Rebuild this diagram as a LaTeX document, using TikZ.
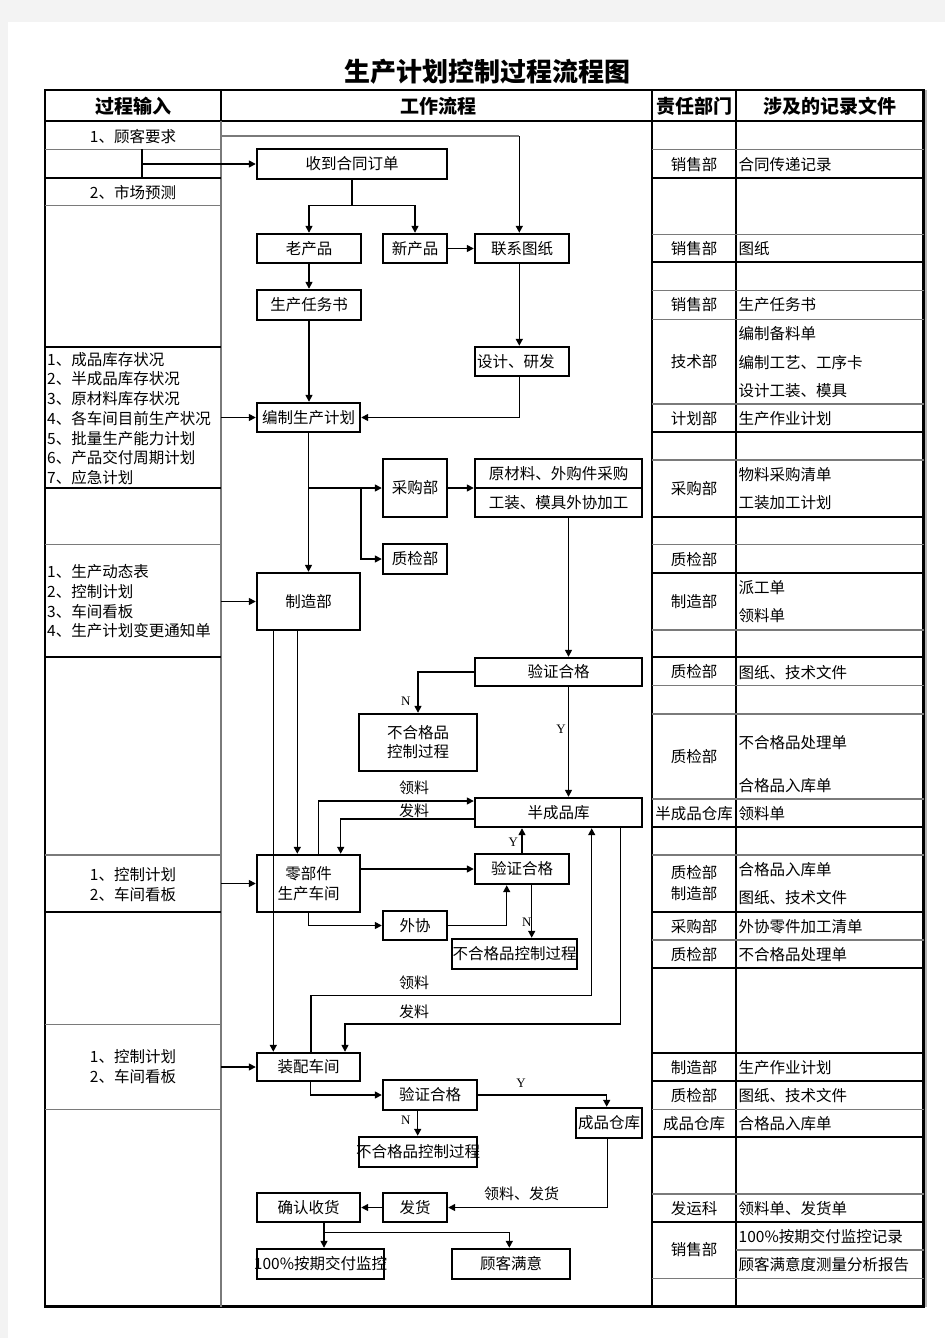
\documentclass[tikz,border=0pt]{standalone}
\usepackage{fontspec}
\setmainfont{Noto Sans CJK SC}
\newfontfamily\latf{Liberation Serif}
\usetikzlibrary{arrows.meta,calc}
\definecolor{bggray}{HTML}{F3F3F3}
\definecolor{rulegray}{HTML}{7A7A7A}
\tikzset{
  pbox/.style={draw, line width=2.4pt, inner sep=0pt, align=center, font=\fontsize{15.5}{19.5}\selectfont},
  sz/.style 2 args={minimum width=#1, minimum height=#2},
  conn/.style={line width=1.5pt},
  arr/.style={line width=1.5pt, -{Triangle[length=7pt,width=7pt]}},
  krule/.style={line width=2pt, black},
  frule/.style={line width=2.6pt, black},
  trule/.style={line width=1.1pt, rulegray},
  mrule/.style={line width=1.6pt, black},
  txt/.style={inner sep=0pt, font=\fontsize{15.5}{19.7}\selectfont},
  lbl/.style={inner sep=0pt, font=\fontsize{15}{18}\selectfont},
  yn/.style={inner sep=0pt, font=\latf\fontsize{13}{15}\selectfont},
  hdr/.style={inner sep=0pt, font=\fontsize{19}{22}\bfseries\selectfont}
}
\begin{document}
\begin{tikzpicture}[x=1pt,y=-1pt]
\useasboundingbox (0,0) rectangle (945,1338);
\fill[bggray] (0,0) rectangle (945,1338);
\fill[white] (8,22) rectangle (945,1338);

% title and headers
\node[inner sep=0pt, font=\fontsize{26}{30}\bfseries\selectfont] (title) at (487,72) {生产计划控制过程流程图};
\node[hdr] (h1) at (133,106) {过程输入};
\node[hdr] (h2) at (438,106) {工作流程};
\node[hdr] (h3) at (694,106) {责任部门};
\node[hdr] (h4) at (830,106) {涉及的记录文件};

% table rules
\draw[line width=1.6pt, gray!60] (926,90) -- (926,1307);
\draw[frule] (45,90) rectangle (923.5,1306.5);
\draw[frule] (45,121) -- (923.5,121);
\draw[frule] (221,90) -- (221,121);
\draw[trule] (221,121) -- (221,1306.5);
\draw[krule] (652,90) -- (652,1306.5);
\draw[mrule] (736,90) -- (736,1306.5);
\foreach \h in {149.3,205.7,544.7,855,1024.3,1109.3} \draw[trule] (45,\h) -- (221,\h);
\foreach \h in {177.7,347,487.7,657.3,911.7} \draw[krule] (45,\h) -- (221,\h);
\foreach \h in {149.3,234.3,290.7,319.3,404,460,544.7,630,685.7,714,799,855,940,1109.3,1194,1278.3} \draw[trule] (652,\h) -- (923.5,\h);
\foreach \h in {177.7,262.3,431.7,516.7,572.7,656.7,827.3,911.7,968.3,1052.7,1081,1137.3,1222.3} \draw[krule] (652,\h) -- (923.5,\h);
\draw[trule] (736,1250) -- (923.5,1250);

% left column texts
\node[txt] (in1) at (133,136.5) {1、顾客要求};
\node[txt] (in2) at (133,193) {2、市场预测};
\node[txt, anchor=west, align=left] (in3) at (47,418.5) {1、成品库存状况\\2、半成品库存状况\\3、原材料库存状况\\4、各车间目前生产状况\\5、批量生产能力计划\\6、产品交付周期计划\\7、应急计划};
\node[txt, anchor=west, align=left] (in4) at (47,601.5) {1、生产动态表\\2、控制计划\\3、车间看板\\4、生产计划变更通知单};
\node[txt, align=center, font=\fontsize{15.5}{20}\selectfont] (in5) at (133,884.5) {1、控制计划\\2、车间看板};
\node[txt, align=center, font=\fontsize{15.5}{20}\selectfont] (in6) at (133,1067) {1、控制计划\\2、车间看板};

% department column
\foreach \rowy/\rowtext [count=\i] in {165/销售部, 248.5/销售部, 305/销售部, 362/技术部, 418.5/计划部, 488.5/采购部, 559.5/质检部, 601.5/制造部, 672/质检部, 757/质检部, 813.5/半成品仓库, 926.5/采购部, 954.5/质检部, 1067.5/制造部, 1096/质检部, 1123.5/成品仓库, 1208.5/发运科, 1250/销售部}
  \node[txt] (dep\i) at (694,\rowy) {\rowtext};
\node[txt, align=center, font=\fontsize{15.5}{20.5}\selectfont] (depqm) at (694,883) {质检部\\制造部};

% record column
\foreach \rowy/\rowtext [count=\i] in {165/合同传递记录, 248.5/图纸, 305/生产任务书, 334/编制备料单, 362.5/编制工艺、工序卡, 391/设计工装、模具, 418.5/生产作业计划, 475/物料采购清单, 503/工装加工计划, 588/派工单, 616/领料单, 672.5/图纸、技术文件, 743/不合格品处理单, 786/合格品入库单, 813.5/领料单, 870/合格品入库单, 898/图纸、技术文件, 926.5/外协零件加工清单, 954.5/不合格品处理单, 1067.5/生产作业计划, 1096/图纸、技术文件, 1123.5/合格品入库单, 1208.5/领料单、发货单, 1236.5/100\%按期交付监控记录, 1265/顾客满意度测量分析报告}
  \node[txt, anchor=west] (rec\i) at (738.5,\rowy) {\rowtext};

% workflow boxes
\node[pbox, sz={190}{30}] (o1) at (352,164) {收到合同订单};
\node[pbox, sz={104}{29}] (old) at (309,248.5) {老产品};
\node[pbox, sz={64}{29}] (new) at (415,248.5) {新产品};
\node[pbox, sz={94}{29}] (draw) at (522,248.5) {联系图纸};
\node[pbox, sz={104}{30}] (task) at (309,305) {生产任务书};
\node[pbox, sz={94}{29}, text width=90pt, align=left, inner xsep=2pt] (design) at (522,361.5) {设计、研发};
\node[pbox, sz={103}{29}] (plan) at (308.5,417.5) {编制生产计划};
\node[pbox, sz={64}{58}] (buy) at (415,488) {采购部};
\node[pbox, sz={167}{29}] (mat1) at (558.5,473.5) {原材料、外购件采购};
\node[pbox, sz={167}{29}] (mat2) at (558.5,502.5) {工装、模具外协加工};
\node[pbox, sz={64}{30}] (qc1) at (415,559) {质检部};
\node[pbox, sz={103}{57}] (mfg) at (308.5,601.5) {制造部};
\node[pbox, sz={167}{28}] (ver1) at (558.5,672) {验证合格};
\node[pbox, sz={118}{57}, font=\fontsize{15.5}{19}\selectfont] (ng1) at (418,742.5) {不合格品\\控制过程};
\node[pbox, sz={167}{29}] (semi) at (558.5,812.5) {半成品库};
\node[pbox, sz={103}{57}, font=\fontsize{15.5}{20}\selectfont] (parts) at (308.5,883.5) {零部件\\生产车间};
\node[pbox, sz={94}{30}] (ver2) at (522,869) {验证合格};
\node[pbox, sz={64}{29}] (out) at (415,925.5) {外协};
\node[pbox, sz={125}{30}] (ng2) at (514.5,954) {\makebox[0pt]{不合格品控制过程}};
\node[pbox, sz={103}{28}] (asm) at (308.5,1067) {装配车间};
\node[pbox, sz={94}{30}] (ver3) at (430,1095) {验证合格};
\node[pbox, sz={118}{30}] (ng3) at (418,1152) {\makebox[0pt]{不合格品控制过程}};
\node[pbox, sz={66}{30}] (fin) at (609,1123) {\makebox[0pt]{成品仓库}};
\node[pbox, sz={103}{29}] (recv) at (308.5,1207.5) {确认收货};
\node[pbox, sz={64}{29}] (ship) at (415,1207.5) {发货};
\node[pbox, sz={127}{30}] (mon) at (320.5,1264) {\makebox[0pt]{100\%按期交付监控}};
\node[pbox, sz={118}{30}] (sat) at (511,1264) {顾客满意};

% helper coordinates
\coordinate (colL) at (221,0);
\coordinate (c1) at (221,136);
\coordinate (c1b) at (519.3,136);
\coordinate (c2t) at (142,149.3);
\coordinate (c2b) at (142,177.7);
\coordinate (c2) at (142,164);
\coordinate (b1) at (352,205.7);
\coordinate (b2) at (308.5,488);
\coordinate (b3) at (361,488);
\coordinate (r1) at (591.7,995.7);
\coordinate (r2) at (345,1024);
\coordinate (b4) at (324,1232.3);

% connectors
\draw[line width=1.1pt, rulegray] (c1) -- (c1b);
\draw[arr] (c1b) -- (c1b |- draw.north);
\draw[conn] (c2t) -- (c2b);
\draw[arr] (c2) -- (o1.west);
\draw[conn] (o1.south) -- (b1);
\draw[arr] (b1) -| (old.north);
\draw[arr] (b1) -| (new.north);
\draw[arr] (new.east) -- (draw.west);
\draw[arr] (old.south) -- (task.north);
\draw[arr] ([xshift=-2.7pt]draw.south) -- ([xshift=-2.7pt]design.north);
\draw[arr] (task.south) -- (task.south |- plan.north);
\draw[arr] ([xshift=-2.7pt]design.south) |- (plan.east);
\draw[arr] (plan.west -| colL) -- (plan.west);
\draw[arr] (plan.south) -- (mfg.north);
\draw[arr] (b2) -- (b2 -| buy.west);
\draw[arr] (b3) |- (qc1.west);
\draw[arr] (buy.east) -- (buy.east -| mat1.west);
\draw[arr] ([xshift=10pt]mat2.south) -- ([xshift=10pt]ver1.north);
\draw[arr] (mfg.west -| colL) -- (mfg.west);
\draw[arr] (ver1.west) -| (ng1.north);
\draw[arr] ([xshift=10pt]ver1.south) -- ([xshift=10pt]semi.north);
\draw[arr] ([xshift=-35.2pt]mfg.south) -- ([xshift=-35.2pt]mfg.south |- asm.north);
\draw[arr] ([xshift=-11.2pt]mfg.south) -- ([xshift=-11.2pt]mfg.south |- parts.north);
\draw[arr] ([xshift=9.8pt]parts.north) |- ([yshift=11.5pt]semi.west);
\draw[arr] ([yshift=-6.5pt]semi.west) -| ([xshift=32.2pt]parts.north);
\draw[arr] (parts.east |- ver2.west) -- (ver2.west);
\draw[arr] (parts.south) |- (out.west);
\draw[arr] (out.east) -| ([xshift=-15.3pt]ver2.south);
\draw[arr] (ver2.north) -- (ver2.north |- semi.south);
\draw[arr] ([xshift=9.7pt]ver2.south) -- ([xshift=9.7pt]ver2.south |- ng2.north);
\draw[arr] ([xshift=2.5pt]asm.north) |- (r1) -- (r1 |- semi.south);
\draw[arr] ([xshift=62.2pt]semi.south) |- (r2) -- (r2 |- asm.north);
\draw[arr] (parts.west -| colL) -- (parts.west);
\draw[arr] (asm.west -| colL) -- (asm.west);
\draw[arr] ([xshift=2.2pt]asm.south) |- (ver3.west);
\draw[arr] (ver3.east) -| ([xshift=-2.3pt]fin.north);
\draw[arr] ([xshift=-12.3pt]ver3.south) -- ([xshift=-12.3pt]ver3.south |- ng3.north);
\draw[arr] ([xshift=-1.3pt]fin.south) |- (ship.east);
\draw[arr] (ship.west) -- (recv.east);
\draw[arr] ([xshift=15.5pt]recv.south) -- ([xshift=15.5pt]recv.south |- mon.north);
\draw[arr] (b4) -| ([xshift=-1.7pt]sat.north);

% connector labels
\node[lbl] (lab1) at (414,788) {领料};
\node[lbl] (lab2) at (414,810.5) {发料};
\node[lbl] (lab3) at (414,983) {领料};
\node[lbl] (lab4) at (414,1011.5) {发料};
\node[lbl] (lab5) at (521.5,1194) {领料、发货};
\node[yn] (yn1) at (405.7,701.5) {N};
\node[yn] (yn2) at (561,729.5) {Y};
\node[yn] (yn3) at (513.3,842) {Y};
\node[yn] (yn4) at (526.7,922.5) {N};
\node[yn] (yn5) at (521,1083) {Y};
\node[yn] (yn6) at (405.7,1120.5) {N};
\end{tikzpicture}
\end{document}
